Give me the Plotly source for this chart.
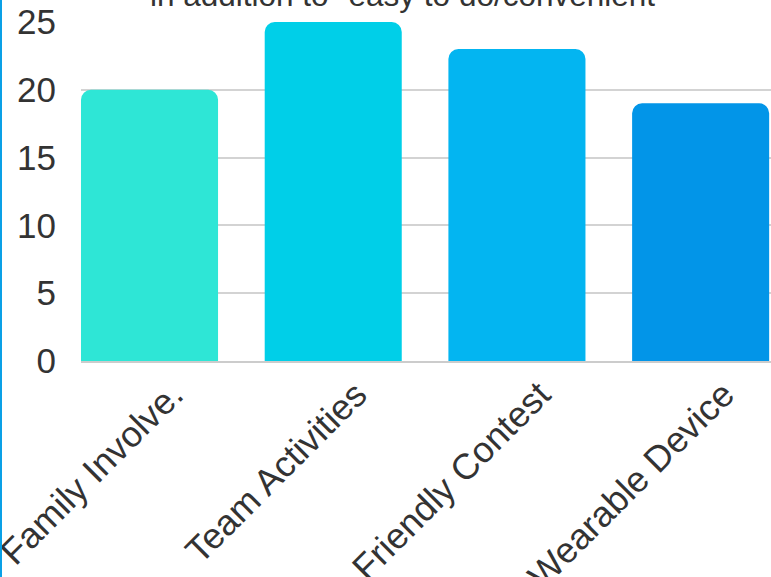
import plotly.graph_objects as go

categories = ["Family Involve.", "Team Activities", "Friendly Contest", "Wearable Device"]
values = [20, 25, 23, 19]
colors = ["#2ee6d6", "#00cfe8", "#03b5f1", "#0295e8"]
y_ticks = [0, 5, 10, 15, 20, 25]
title_text = 'in addition to "easy to do/convenient"'

W, H = 771, 577
ML, MR, MT, MB = 81, 0, 22, 216
plot_w = W - ML - MR
plot_h = H - MT - MB

bw = 0.746
fig = go.Figure(go.Bar(
    x=list(range(len(categories))), y=values, marker=dict(color=colors, line=dict(width=0)),
    width=bw,
))
fig.update_layout(
    width=W, height=H, margin=dict(l=ML, r=MR, t=MT, b=MB, autoexpand=False),
    paper_bgcolor="white", plot_bgcolor="white", showlegend=False,
    barcornerradius=10,
    font=dict(family="Liberation Sans, Arial, sans-serif", color="#333333"),
)
fig.update_xaxes(
    tickmode="array", tickvals=list(range(len(categories))), ticktext=categories,
    range=[-bw / 2, 3 + bw / 2 + 0.01], tickangle=-45, showgrid=False,
    showline=True, linecolor="#cccccc", linewidth=2, ticks="", automargin=False,
    tickfont=dict(size=36, color="#333333"), ticklabelshift=23, ticklabelstandoff=-4,
    ticklabeloverflow="allow",
)
fig.update_yaxes(
    range=[0, 25], tickvals=y_ticks, showgrid=True, gridcolor="#d3d3d3", gridwidth=1.5,
    zeroline=False, tickfont=dict(size=35, color="#333333"), ticklabelstandoff=24,
    automargin=False,
)
fig.add_annotation(
    text=title_text, xref="paper", yref="paper", x=(408 - ML) / plot_w,
    y=1 + (MT + 5) / plot_h, xanchor="center", yanchor="middle", showarrow=False,
    font=dict(family="Liberation Sans, Arial, sans-serif", size=31.5, color="#333333"),
)
fig.add_shape(
    type="line", xref="paper", yref="paper",
    x0=-(ML - 1) / plot_w, x1=-(ML - 1) / plot_w, y0=-MB / plot_h, y1=1 + MT / plot_h,
    line=dict(color="#0aa0e6", width=2),
)
fig.write_html("out.html", config={"displayModeBar": False},
               post_script="document.body.style.margin='0';")
